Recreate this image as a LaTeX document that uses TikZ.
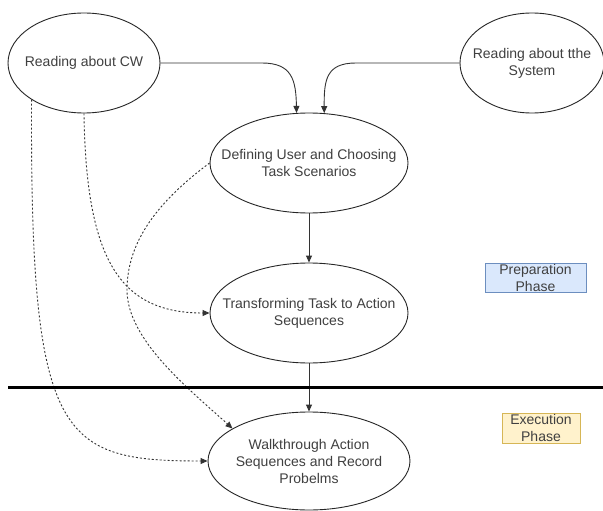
\documentclass[tikz,border=0pt]{standalone}
\usepackage{fontspec}
\setmainfont{Liberation Sans}
\usetikzlibrary{shapes.geometric,arrows.meta}
\definecolor{prepfill}{HTML}{DAE8FC}
\definecolor{prepline}{HTML}{6C8EBF}
\definecolor{exefill}{HTML}{FFF2CC}
\definecolor{exeline}{HTML}{D6B656}
\begin{document}
\begin{tikzpicture}[x=1pt,y=-1pt,
  stage/.style={draw=black!85,line width=0.9pt,ellipse,inner sep=0pt},
  stagetext/.style={align=center,text=black!75,font=\fontsize{14}{17}\selectfont},
  flow/.style={draw=black!80,line width=0.9pt,-{Triangle[length=7pt,width=6pt]}},
  dotflow/.style={flow,dash pattern=on 2pt off 2pt},
  phasebox/.style={draw,line width=0.8pt,inner sep=0pt,align=center,text=black!75,font=\fontsize{14}{17}\selectfont}]
\fill[white] (0,0) rectangle (603,511);
\useasboundingbox (0,0) rectangle (603,511);
\node[stage,minimum width=152pt,minimum height=100pt] (cw) at (84,63) {};
\node[stagetext] (cwT) at (cw) {Reading about CW};
\node[stage,minimum width=144pt,minimum height=100pt] (sys) at (532,63) {};
\node[stagetext] (sysT) at (sys) {Reading about tthe\\System};
\node[stage,minimum width=198pt,minimum height=100pt] (def) at (309,163) {};
\node[stagetext] (defT) at (def) {Defining User and Choosing\\Task Scenarios};
\node[stage,minimum width=198pt,minimum height=100pt] (tra) at (309,313) {};
\node[stagetext] (traT) at (tra) {Transforming Task to Action\\Sequences};
\node[stage,minimum width=202pt,minimum height=98pt] (walk) at (309,461) {};
\node[stagetext] (walkT) at (walk) {Walkthrough Action\\Sequences and Record\\Probelms};
\node[phasebox,fill=prepfill,draw=prepline,minimum width=101pt,minimum height=29pt] (prep) at (535.5,277.5) {Preparation\\Phase};
\node[phasebox,fill=exefill,draw=exeline,minimum width=78pt,minimum height=30pt] (exe) at (541,428) {Execution\\Phase};
\draw[flow] (cw.east) -- (262,63) .. controls (292,63) and (296,80) .. (def.104);
\draw[flow] (sys.west) -- (356,63) .. controls (326,63) and (324,80) .. (def.73);
\draw[flow] (def.south) -- (tra.north);
\draw[flow] (tra.south) -- (walk.north);
\draw[dotflow] (cw.south) .. controls (86,260) and (120,313) .. (tra.west);
\draw[dotflow] (cw.215) .. controls (30,440) and (60,461) .. (walk.west);
\draw[dotflow] (def.west) .. controls (160,200) and (127,240) .. (127,290) .. controls (127,340) and (190,390) .. (walk.157);
\draw[line width=3pt] (8,387) -- (603,387);
\end{tikzpicture}
\end{document}
